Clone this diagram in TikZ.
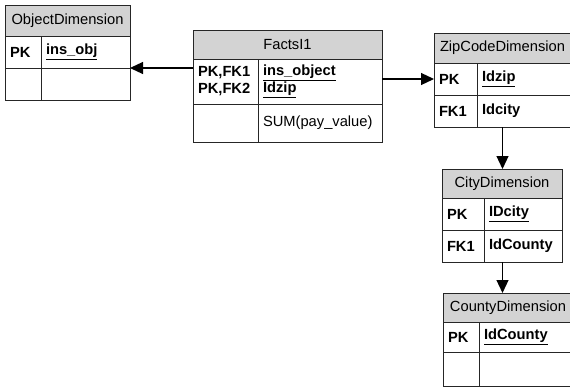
\documentclass[tikz,border=0pt]{standalone}
\usepackage{fontspec}
\setmainfont{Liberation Sans}
\usepackage{xcolor}
\usetikzlibrary{positioning, arrows.meta}
\definecolor{hdrgray}{RGB}{211,211,211}

\begin{document}
\begin{tikzpicture}[x=1pt, y=-1pt, line width=0.9pt,
  font=\fontsize{14.7}{17}\selectfont,
  tblhead/.style 2 args={draw=black!85, fill=hdrgray, anchor=north west, inner sep=0pt, outer sep=0pt, minimum width=#1, minimum height=#2},
  tblcell/.style 2 args={draw=black!85, anchor=north west, inner ysep=0pt, inner xsep=5pt, outer sep=0pt, text width=#1-10pt, align=left, minimum height=#2, font=\fontsize{14.7}{17}\selectfont\bfseries},
  fkarrow/.style={draw=black, line width=1.2pt, -{Triangle[length=13pt,width=12pt]}}]
\useasboundingbox (0,0) rectangle (570,388);
% ObjectDimension
\node [tblhead={125pt}{31pt}] (objhead) at (5,5) {ObjectDimension};
\node [tblcell={36pt}{32pt}] (objpk) at (5,36) {PK};
\node [tblcell={89pt}{32pt}] (objfield) at (41,36) {\underline{ins\_obj}};
\node [tblcell={36pt}{32pt}] (objpk2) at (5,68) {};
\node [tblcell={89pt}{32pt}] (objfield2) at (41,68) {};
% FactsI1
\node [tblhead={189pt}{29pt}] (factshead) at (193,30) {FactsI1};
\node [tblcell={65pt}{45pt}] (factspk) at (193,59) {PK,FK1\\PK,FK2};
\node [tblcell={124pt}{45pt}] (factsfield) at (258,59) {\underline{ins\_object}\\\underline{Idzip}};
\node [tblcell={65pt}{38pt}] (factspk2) at (193,104) {};
\node [tblcell={124pt}{38pt}, font=\fontsize{14.7}{17}\selectfont] (factsfield2) at (258,104) {SUM(pay\_value)};
% ZipCodeDimension
\node [tblhead={137pt}{30pt}] (ziphead) at (434,33) {ZipCodeDimension};
\node [tblcell={43pt}{32pt}] (zippk) at (434,63) {PK};
\node [tblcell={94pt}{32pt}] (zipfield) at (477,63) {\underline{Idzip}};
\node [tblcell={43pt}{32pt}] (zipfk) at (434,95) {FK1};
\node [tblcell={94pt}{32pt}] (zipfield2) at (477,95) {Idcity};
% CityDimension
\node [tblhead={120pt}{29pt}] (cityhead) at (442,169) {CityDimension};
\node [tblcell={42pt}{32pt}] (citypk) at (442,198) {PK};
\node [tblcell={78pt}{32pt}] (cityfield) at (484,198) {\underline{IDcity}};
\node [tblcell={42pt}{32pt}] (cityfk) at (442,230) {FK1};
\node [tblcell={78pt}{32pt}] (cityfield2) at (484,230) {IdCounty};
% CountyDimension
\node [tblhead={130pt}{29pt}] (countyhead) at (443,293) {CountyDimension};
\node [tblcell={36pt}{30pt}] (countypk) at (443,322) {PK};
\node [tblcell={94pt}{30pt}] (countyfield) at (479,322) {\underline{IdCounty}};
\node [tblcell={36pt}{34pt}] (countypk2) at (443,352) {};
\node [tblcell={94pt}{34pt}] (countyfield2) at (479,352) {};
% links
\draw [fkarrow] (factshead.west |- objfield.south east) -- (objfield.south east);
\draw [fkarrow] (factsfield.east |- zippk.west) -- (zippk.west);
\draw [fkarrow] (ziphead.south |- zipfk.south) -- (ziphead.south |- cityhead.north);
\draw [fkarrow] (ziphead.south |- cityfk.south) -- (ziphead.south |- countyhead.north);
\end{tikzpicture}
\end{document}
